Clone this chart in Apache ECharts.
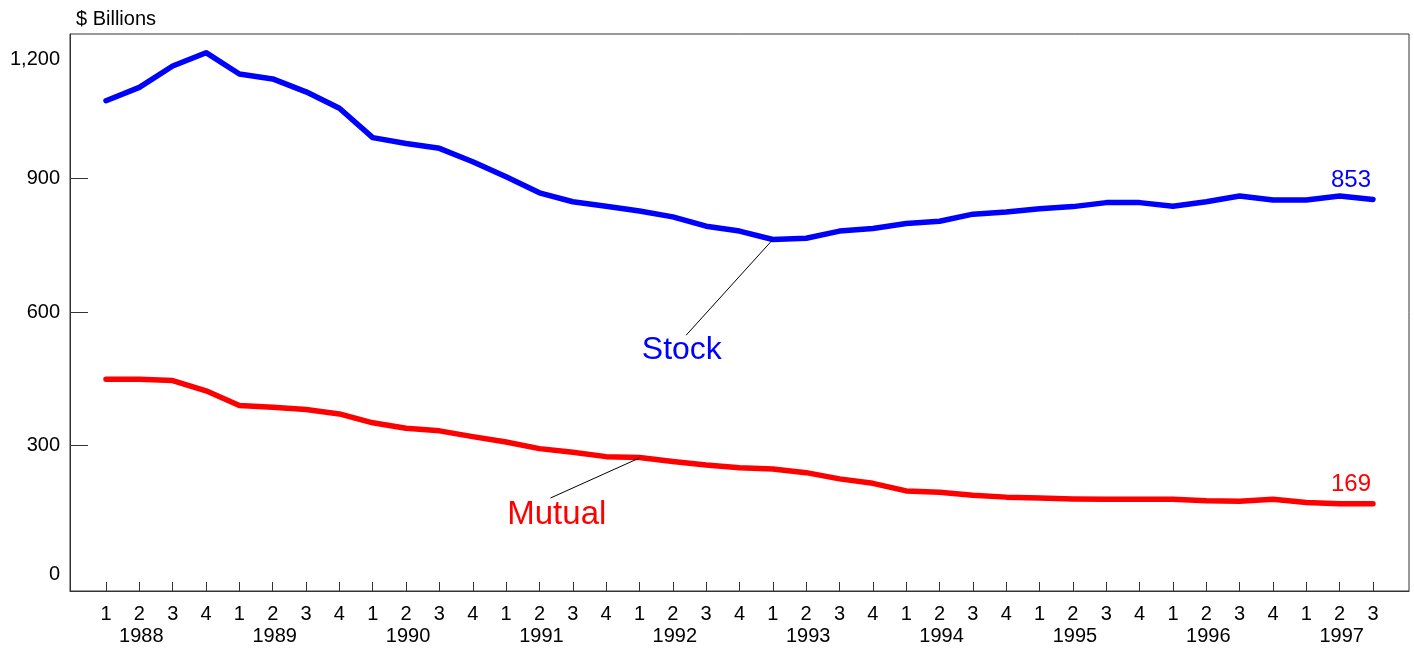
<!DOCTYPE html>
<html>
<head>
<meta charset="utf-8">
<script src="https://cdn.jsdelivr.net/npm/echarts@6/dist/echarts.min.js"></script>
<style>
  html, body { margin: 0; padding: 0; background: #fff; }
  #main { width: 1414px; height: 649px; }
</style>
</head>
<body>
<div id="main"></div>
<script>
// quarters 1988Q1 .. 1997Q3
var years = ["1988","1989","1990","1991","1992","1993","1994","1995","1996","1997"];
var quarters = ["1","2","3","4","1","2","3","4","1","2","3","4","1","2","3","4","1","2","3","4",
                "1","2","3","4","1","2","3","4","1","2","3","4","1","2","3","4","1","2","3"];
var stock = [1075,1105,1153,1183,1135,1124,1095,1058,992,979,968,938,904,868,848,838,827,814,793,782,
             763,766,782,788,799,804,820,825,832,837,846,846,838,848,861,852,852,861,853];
var mutual = [449,449,446,423,390,386,381,371,351,339,333,320,308,293,285,275,273,264,256,250,
              247,239,225,215,198,195,188,184,182,180,179,179,179,176,175,179,172,169,169];
var yTicks = [0,300,600,900,1200];

var chartDom = document.getElementById("main");
var myChart = echarts.init(chartDom);
var font = "Liberation Sans, Arial, sans-serif";

var idx = quarters.map(function(q, i){ return i; });
var yearPos = years.map(function(y, i){ return i*4 + 1.06; });

function pairs(arr, lastLabelOffset){
  return arr.map(function(v, i){
    var item = { value: [i, v] };
    if (i === arr.length - 1) {
      item.label = { show: true, position: "top", offset: lastLabelOffset, formatter: String(v),
                     fontSize: 24, fontFamily: font };
    }
    return item;
  });
}

var option = {
  animation: false,
  backgroundColor: "#fff",
  title: {
    text: "$ Billions",
    left: 71, top: 4,
    textStyle: { fontSize: 20, fontWeight: "normal", color: "#000", fontFamily: font }
  },
  grid: {
    left: 70, right: 5, top: 34, bottom: 58,
    show: true, borderColor: "#333", borderWidth: 1
  },
  xAxis: [{
    type: "value",
    min: -1.08, max: 39.08,
    splitLine: { show: false },
    axisLine: { show: true, onZero: false, lineStyle: { color: "#333", width: 1 } },
    axisTick: { show: true, inside: true, length: 9, customValues: idx, lineStyle: { color: "#333" } },
    axisLabel: {
      customValues: idx, margin: 13, fontSize: 20, color: "#000", fontFamily: font,
      formatter: function(v){ return quarters[Math.round(v)] || ""; }
    }
  }, {
    type: "value",
    position: "bottom",
    min: -1.08, max: 39.08,
    splitLine: { show: false },
    axisLine: { show: false, onZero: false },
    axisTick: { show: false },
    axisLabel: {
      customValues: yearPos, margin: 35, fontSize: 20, color: "#000", fontFamily: font,
      formatter: function(v){
        for (var i = 0; i < yearPos.length; i++) { if (Math.abs(yearPos[i] - v) < 0.01) return years[i]; }
        return "";
      }
    }
  }],
  yAxis: {
    type: "value",
    min: -27, max: 1225,
    splitLine: { show: false },
    axisLine: { show: true, onZero: false, lineStyle: { color: "#333", width: 1 } },
    axisTick: { show: true, inside: true, length: 18, customValues: [300,600,900], lineStyle: { color: "#333" } },
    axisLabel: {
      customValues: yTicks, margin: 10, fontSize: 20, color: "#000", fontFamily: font,
      formatter: function(v){
        if (v >= 1000) return "{hi|1," + String(v).slice(1) + "}";
        if (v === 0) return "{lo|0}";
        return String(v);
      },
      rich: {
        hi: { fontSize: 20, fontFamily: font, color: "#000", padding: [28, 0, 0, 0] },
        lo: { fontSize: 20, fontFamily: font, color: "#000", padding: [0, 0, 10, 0] }
      }
    }
  },
  series: [{
    name: "Stock",
    type: "line",
    xAxisIndex: 0,
    data: pairs(stock, [-22, -2]),
    symbol: "circle",
    symbolSize: 1,
    showAllSymbol: true,
    lineStyle: { color: "#0000ff", width: 5.5, cap: "round", join: "round" },
    itemStyle: { color: "#0000ff" },
    label: { color: "#0000ff" },
    markLine: {
      silent: true, symbol: "none",
      lineStyle: { color: "#000", width: 1, type: "solid" },
      label: { show: false },
      data: [[{ coord: [17.4, 548] }, { coord: [20, 763] }]]
    },
    markPoint: {
      symbolSize: 0,
      data: [{ coord: [17.27, 515], label: { show: true, formatter: "Stock", position: "inside",
               fontSize: 32, color: "#0000ff", fontFamily: font } }]
    }
  }, {
    name: "Mutual",
    type: "line",
    xAxisIndex: 0,
    data: pairs(mutual, [-22, -2]),
    symbol: "circle",
    symbolSize: 1,
    showAllSymbol: true,
    lineStyle: { color: "#ff0000", width: 5.5, cap: "round", join: "round" },
    itemStyle: { color: "#ff0000" },
    label: { color: "#ff0000" },
    markLine: {
      silent: true, symbol: "none",
      lineStyle: { color: "#000", width: 1, type: "solid" },
      label: { show: false },
      data: [[{ coord: [13.33, 182] }, { coord: [16, 272] }]]
    },
    markPoint: {
      symbolSize: 0,
      data: [{ coord: [13.52, 144], label: { show: true, formatter: "Mutual", position: "inside",
               fontSize: 33, color: "#ff0000", fontFamily: font } }]
    }
  }]
};

option && myChart.setOption(option);
</script>
</body>
</html>
